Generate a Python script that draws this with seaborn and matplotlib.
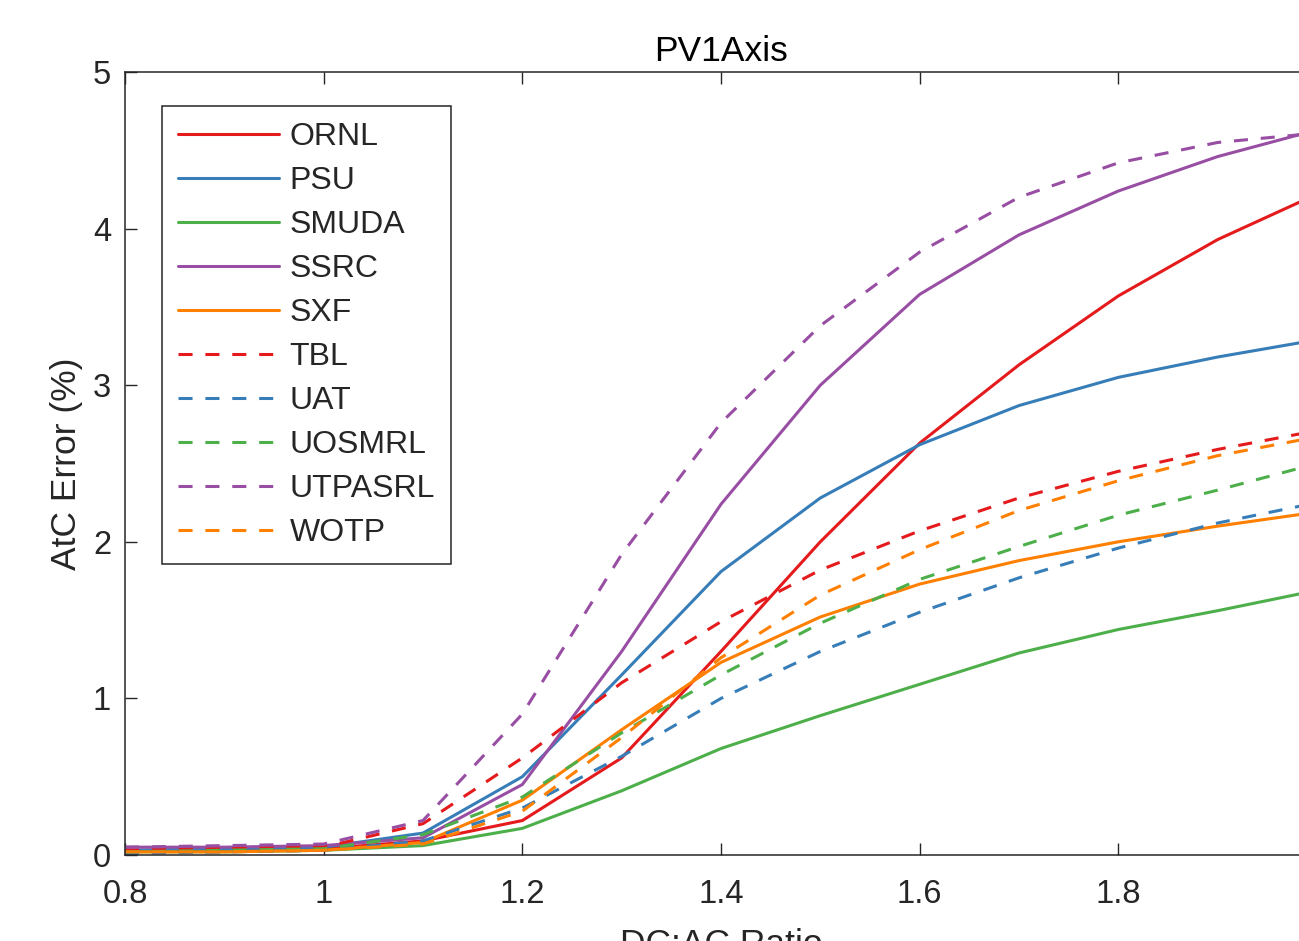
import matplotlib
matplotlib.use("Agg")
import matplotlib.pyplot as plt
import pandas as pd
import seaborn as sns

# DC:AC ratio steps
ratio = [0.8, 0.9, 1.0, 1.1, 1.2, 1.3, 1.4, 1.5, 1.6, 1.7, 1.8, 1.9, 2.0]

# AtC error (%) per lab
ornl = [0.03, 0.03, 0.04, 0.09, 0.22, 0.62, 1.30, 2.00, 2.63, 3.13, 3.57, 3.93, 4.22]
psu = [0.03, 0.04, 0.05, 0.14, 0.50, 1.15, 1.81, 2.28, 2.62, 2.87, 3.05, 3.18, 3.29]
smuda = [0.02, 0.02, 0.03, 0.06, 0.17, 0.41, 0.68, 0.89, 1.09, 1.29, 1.44, 1.56, 1.69]
ssrc = [0.05, 0.05, 0.06, 0.11, 0.45, 1.30, 2.24, 3.00, 3.58, 3.96, 4.24, 4.46, 4.63]
sxf = [0.02, 0.02, 0.03, 0.08, 0.35, 0.80, 1.23, 1.52, 1.73, 1.88, 2.00, 2.10, 2.19]
tbl = [0.03, 0.04, 0.05, 0.20, 0.62, 1.10, 1.49, 1.82, 2.07, 2.28, 2.45, 2.59, 2.71]
uat = [0.01, 0.02, 0.03, 0.09, 0.30, 0.63, 1.00, 1.30, 1.55, 1.77, 1.96, 2.12, 2.25]
uosmrl = [0.02, 0.03, 0.04, 0.13, 0.37, 0.78, 1.15, 1.48, 1.76, 1.97, 2.17, 2.33, 2.50]
utpasrl = [0.05, 0.06, 0.07, 0.22, 0.90, 1.92, 2.76, 3.38, 3.85, 4.20, 4.42, 4.55, 4.61]
wotp = [0.02, 0.02, 0.03, 0.07, 0.28, 0.75, 1.26, 1.66, 1.95, 2.20, 2.39, 2.55, 2.67]

labs = ["ORNL", "PSU", "SMUDA", "SSRC", "SXF", "TBL", "UAT", "UOSMRL", "UTPASRL", "WOTP"]
series = [ornl, psu, smuda, ssrc, sxf, tbl, uat, uosmrl, utpasrl, wotp]

xticks = [0.8, 1.0, 1.2, 1.4, 1.6, 1.8]
xtick_labels = ["0.8", "1", "1.2", "1.4", "1.6", "1.8"]
yticks = [0, 1, 2, 3, 4, 5]

set1 = ["#e41a1c", "#377eb8", "#4daf4a", "#984ea3", "#ff7f00"]
palette = {lab: set1[i % 5] for i, lab in enumerate(labs)}
dashes = {lab: ("" if i < 5 else (4.6, 4.2)) for i, lab in enumerate(labs)}

rows = []
for lab, vals in zip(labs, series):
    for r, v in zip(ratio, vals):
        rows.append((r, v, lab))
df = pd.DataFrame(rows, columns=["ratio", "error", "lab"])

sns.set_theme(style="white")
plt.rcParams["font.family"] = ["Liberation Sans", "DejaVu Sans"]
plt.rcParams["xtick.direction"] = "in"
plt.rcParams["ytick.direction"] = "in"

fig = plt.figure(figsize=(12.99, 9.41), dpi=100)
# axes run past the right edge (x = 2.0 sits outside the canvas, as in the reference)
ax = fig.add_axes([125 / 1299, 1 - 855 / 941, (1317 - 125) / 1299, (855 - 72) / 941])

sns.lineplot(data=df, x="ratio", y="error", hue="lab", style="lab",
             palette=palette, dashes=dashes, linewidth=2.2, ax=ax)

ax.set_xlim(0.8, 2.0)
ax.set_ylim(0, 5)
ax.set_xticks(xticks)
ax.set_xticklabels(xtick_labels)
ax.set_yticks(yticks)
ax.tick_params(axis="both", which="both", labelsize=23.5, length=8.5, width=1.0,
               color="#262626", labelcolor="#262626", top=True, right=True,
               bottom=True, left=True)
ax.tick_params(axis="x", pad=17)
ax.tick_params(axis="y", pad=10)
for s in ax.spines.values():
    s.set_visible(True)
    s.set_color("#262626")
    s.set_linewidth(1.1)

ax.set_xlabel("DC:AC Ratio", fontsize=25.5, color="#262626", labelpad=13)
ax.set_ylabel("AtC Error (%)", fontsize=25.5, color="#262626", labelpad=7)
ax.set_title("PV1Axis", fontsize=25.5, color="black", pad=8)

handles, labels = ax.get_legend_handles_labels()
leg = ax.legend(handles, labels, loc="upper left",
                bbox_to_anchor=(162 / 1299, 1 - 106 / 941),
                bbox_transform=fig.transFigure, fontsize=23, frameon=True,
                fancybox=False, framealpha=1, edgecolor="#262626",
                borderpad=0.5, borderaxespad=0, handlelength=3.15,
                handletextpad=0.34, labelspacing=0.44)
leg.get_frame().set_linewidth(1.1)
for h in leg.get_lines():
    h.set_linewidth(2.2)

fig.savefig("out.png", dpi=100)
